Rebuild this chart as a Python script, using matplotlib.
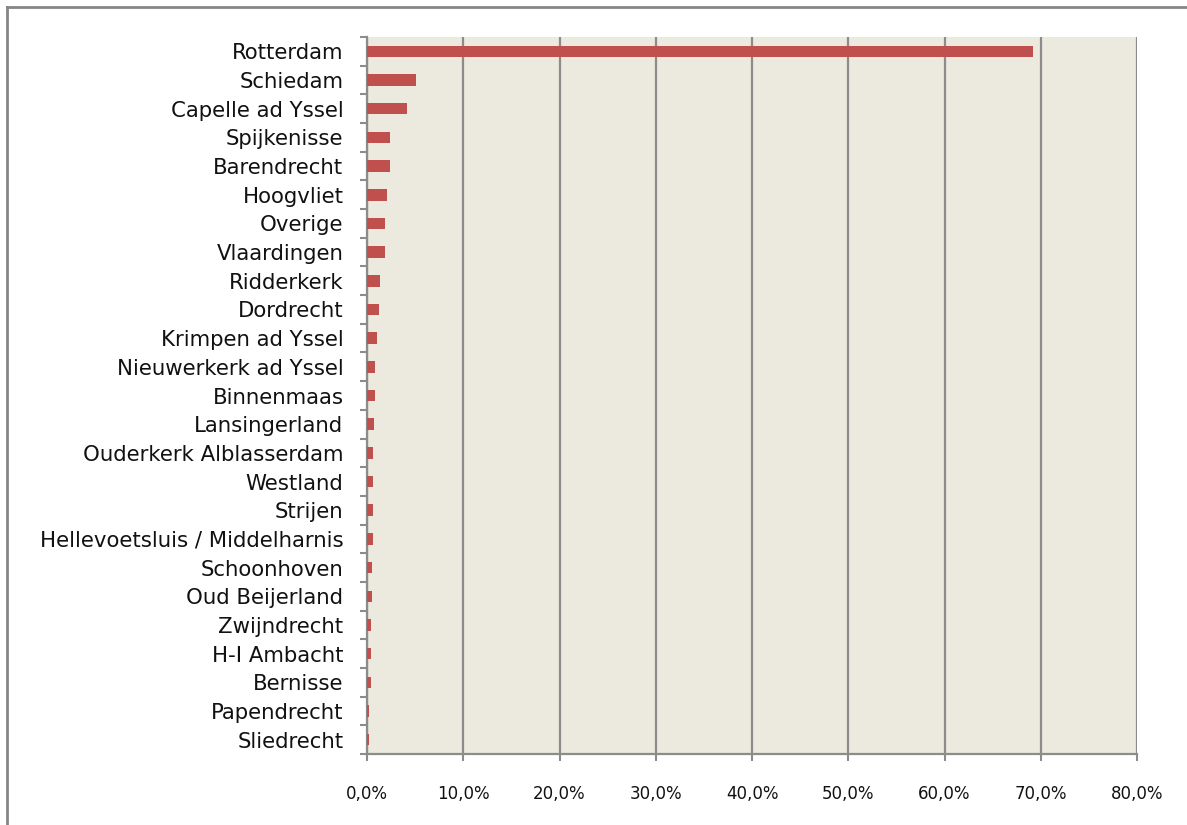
import matplotlib.pyplot as plt
import numpy as np
from matplotlib.lines import Line2D
from matplotlib.ticker import FuncFormatter

# share of total per municipality (%), top to bottom as in the chart
places = [
    "Rotterdam", "Schiedam", "Capelle ad Yssel", "Spijkenisse", "Barendrecht",
    "Hoogvliet", "Overige", "Vlaardingen", "Ridderkerk", "Dordrecht",
    "Krimpen ad Yssel", "Nieuwerkerk ad Yssel", "Binnenmaas", "Lansingerland",
    "Ouderkerk Alblasserdam", "Westland", "Strijen",
    "Hellevoetsluis / Middelharnis", "Schoonhoven", "Oud Beijerland",
    "Zwijndrecht", "H-I Ambacht", "Bernisse", "Papendrecht", "Sliedrecht",
]
shares = [
    69.2, 5.1, 4.2, 2.35, 2.35,
    2.1, 1.9, 1.85, 1.4, 1.2,
    1.05, 0.8, 0.8, 0.7,
    0.62, 0.59, 0.59,
    0.59, 0.49, 0.49,
    0.42, 0.42, 0.42, 0.25, 0.18,
]
x_ticks = [0, 10, 20, 30, 40, 50, 60, 70, 80]

GRID = "#8c8c8c"
BAR = "#C0504D"

fig = plt.figure(figsize=(11.87, 8.25), dpi=100)
ax = fig.add_axes([0.3092, 0.0861, 0.6487, 0.869])
ax.set_facecolor("#ECE9DF")

y = np.arange(len(places))
ax.barh(y, shares, height=0.4, color=BAR, linewidth=0, zorder=5)

ax.set_ylim(len(places) - 0.5, -0.5)
ax.set_xlim(0, 80)

ax.set_yticks(y)
ax.set_yticklabels(places, fontsize=15.3, color="#111111")
ax.set_yticks(np.arange(len(places) + 1) - 0.5, minor=True)
ax.tick_params(axis="y", which="major", length=0, pad=17)
ax.tick_params(axis="y", which="minor", length=5, width=1.5, color=GRID)

ax.set_xticks(x_ticks)
ax.xaxis.set_major_formatter(FuncFormatter(lambda v, _: f"{v:.1f}%".replace(".", ",")))
ax.tick_params(axis="x", length=5, width=1.5, color=GRID, pad=17, labelsize=12,
               labelcolor="#111111")

ax.grid(axis="x", color=GRID, linewidth=1.6, zorder=1)
ax.set_axisbelow(True)

for side in ("top", "right"):
    ax.spines[side].set_visible(False)
for side in ("left", "bottom"):
    ax.spines[side].set_color(GRID)
    ax.spines[side].set_linewidth(1.6)
    ax.spines[side].set_zorder(4)

# outer chart frame (only top and left visible in the crop)
fig.add_artist(Line2D([7 / 1187, 1], [1 - 7 / 825, 1 - 7 / 825], color="#868686", linewidth=2))
fig.add_artist(Line2D([7 / 1187, 7 / 1187], [0, 1 - 7 / 825], color="#868686", linewidth=2))

fig.savefig("out.png", dpi=100)
